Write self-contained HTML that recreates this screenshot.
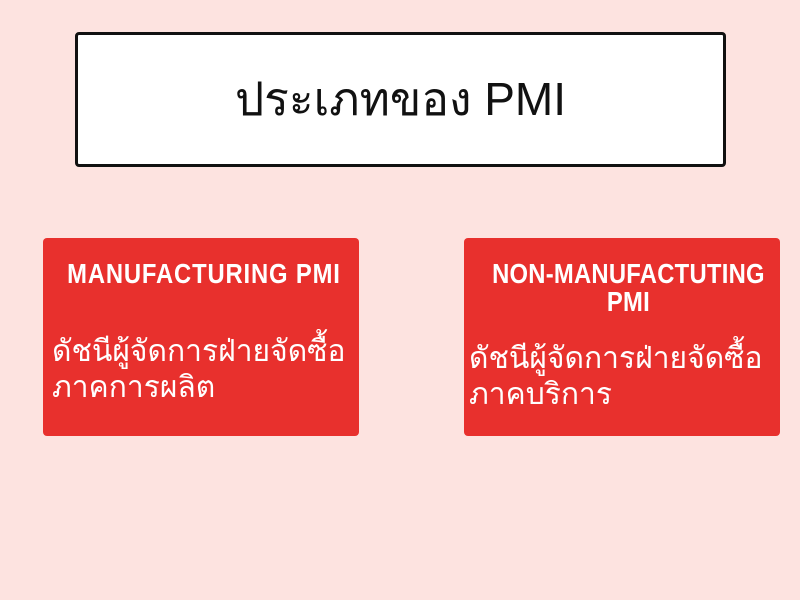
<!DOCTYPE html>
<html><head><meta charset="utf-8"><style>
html,body{margin:0;padding:0}
body{width:800px;height:600px;background:#fde3e0;position:relative;overflow:hidden;font-family:"Liberation Sans",sans-serif}
.title{position:absolute;left:75px;top:32px;width:645px;height:129px;background:#fff;border:3px solid #111;border-radius:4px;display:flex;align-items:center;justify-content:center;font-size:46px;color:#111}
.box{position:absolute;top:238px;width:316px;height:198px;background:#e8302d;border-radius:4px;color:#fff}
.h{position:absolute;left:0;width:100%;text-align:center;font-weight:bold;font-size:28px;line-height:28px;white-space:nowrap;letter-spacing:1px}
.h span{display:inline-block;transform:scaleX(0.85);transform-origin:center}
.b{position:absolute;left:9px;font-size:30px;line-height:36px;white-space:nowrap}
</style></head><body>
<div class="title">ประเภทของ PMI</div>
<div class="box" style="left:43px">
<div class="h" style="top:22px"><span>MANUFACTURING PMI</span></div>
<div class="b" style="top:96px">ดัชนีผู้จัดการฝ่ายจัดซื้อ<br>ภาคการผลิต</div>
</div>
<div class="box" style="left:464px">
<div class="h" style="top:22px;left:4px;letter-spacing:0.3px"><span>NON-MANUFACTUTING<br>PMI</span></div>
<div class="b" style="top:103px;left:5px">ดัชนีผู้จัดการฝ่ายจัดซื้อ<br>ภาคบริการ</div>
</div>
</body></html>
